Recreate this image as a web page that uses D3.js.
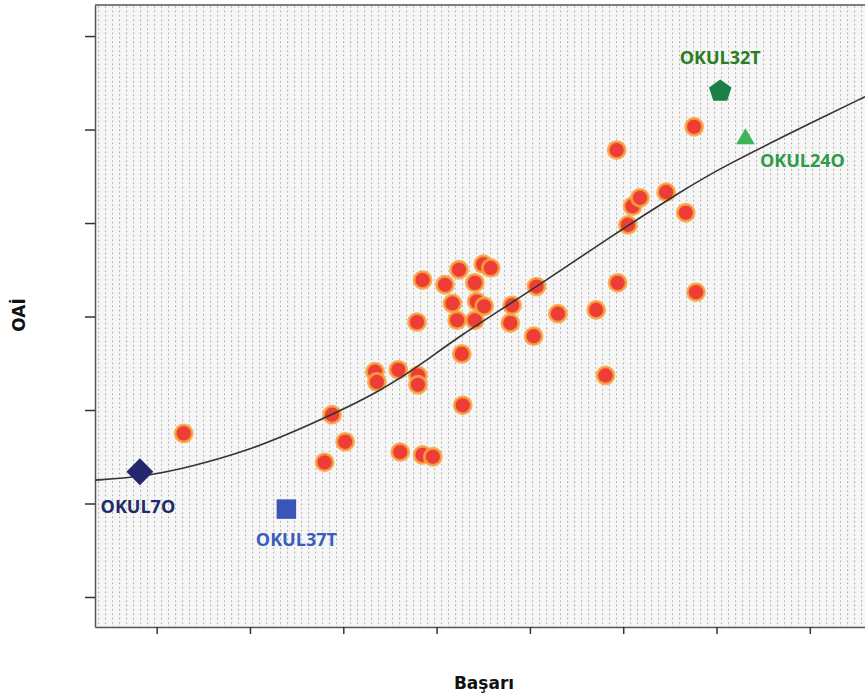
<!DOCTYPE html>
<html>
<head>
<meta charset="utf-8">
<script src="https://cdn.jsdelivr.net/npm/d3@7"></script>
<style>
  html, body { margin: 0; padding: 0; background: #fff; }
  svg { display: block; }
</style>
</head>
<body>
<svg width="865" height="697"></svg>
<script>
// Values (axis has no printed labels, so tick units are used)
const xTicks = [1, 2, 3, 4, 5, 6, 7, 8];
const yTicks = [1, 2, 3, 4, 5, 6, 7];

// schools (red dots)
const basari = [1.29, 2.80, 2.88, 3.02, 3.34, 3.36, 3.59, 3.61, 3.80, 3.80, 3.85, 3.96,
  3.79, 3.85, 4.09, 4.17, 4.22, 4.24, 4.27, 4.28, 4.41, 4.43, 4.41, 4.50, 4.58, 4.51,
  4.81, 4.79, 5.04, 5.07, 5.30, 5.71, 5.81, 5.94, 5.93, 6.05, 6.10, 6.18, 6.46, 6.67,
  6.76, 6.78];
const oai = [2.75, 2.44, 2.95, 2.66, 3.41, 3.30, 3.43, 2.55, 3.37, 3.27, 2.52, 2.50,
  3.94, 4.39, 4.34, 4.14, 3.96, 4.50, 3.60, 3.05, 4.36, 4.16, 3.96, 4.56, 4.52, 4.11,
  4.12, 3.93, 3.79, 4.32, 4.03, 4.07, 3.37, 4.36, 5.78, 4.98, 5.18, 5.27, 5.33, 5.11,
  6.03, 4.26];

// fitted curve
const fitX = [0.34, 0.82, 1.36, 2.00, 2.64, 3.39, 3.91, 4.18, 5.11, 5.84, 6.64, 7.04, 8.11, 8.59];
const fitY = [2.25, 2.28, 2.39, 2.57, 2.84, 3.19, 3.54, 3.75, 4.34, 4.84, 5.35, 5.59, 6.12, 6.35];

// highlighted schools
const okulNames = ["OKUL7O", "OKUL37T", "OKUL32T", "OKUL24O"];
const okulX = [0.82, 2.39, 7.04, 7.31];
const okulY = [2.34, 1.94, 6.41, 5.90];

const svg = d3.select("svg");
const plotL = 95, plotT = 5, plotB = 627, plotR = 870;

const x = d3.scaleLinear().domain([0.339, 8.645]).range([plotL, plotR]);
const y = d3.scaleLinear().domain([0.679, 7.332]).range([plotB, plotT]);

// dotted background
const defs = svg.append("defs");
const pat = defs.append("pattern")
  .attr("id", "dots")
  .attr("patternUnits", "userSpaceOnUse")
  .attr("x", plotL).attr("y", plotT)
  .attr("width", 7).attr("height", 4.4);
pat.append("rect").attr("width", 7).attr("height", 4.4).attr("fill", "#f6f6f6");
pat.append("rect").attr("x", 3).attr("y", 1.3).attr("width", 1.1).attr("height", 1.5).attr("fill", "#a6a6a6");

svg.append("rect")
  .attr("x", plotL).attr("y", plotT)
  .attr("width", plotR - plotL).attr("height", plotB - plotT)
  .attr("fill", "url(#dots)");

// frame top line
svg.append("line")
  .attr("x1", plotL).attr("x2", plotR)
  .attr("y1", plotT).attr("y2", plotT)
  .attr("stroke", "#555").attr("stroke-width", 1.5);

// axes
const yAxis = svg.append("g")
  .attr("transform", `translate(${plotL},0)`)
  .call(d3.axisLeft(y).tickValues(yTicks).tickFormat("").tickSize(10).tickSizeOuter(0));
const xAxis = svg.append("g")
  .attr("transform", `translate(0,${plotB})`)
  .call(d3.axisBottom(x).tickValues(xTicks).tickFormat("").tickSize(7).tickSizeOuter(0));
[yAxis, xAxis].forEach(a => {
  a.select(".domain").attr("stroke", "#555").attr("stroke-width", 1.5);
  a.selectAll(".tick line").attr("stroke", "#333").attr("stroke-width", 1.5);
});

// red points
const pts = basari.map((d, i) => ({ x: d, y: oai[i] }));
svg.append("g").selectAll("circle")
  .data(pts)
  .join("circle")
  .attr("cx", d => x(d.x))
  .attr("cy", d => y(d.y))
  .attr("r", 8.5)
  .attr("fill", "#ee3d36")
  .attr("stroke", "#f7a63e")
  .attr("stroke-width", 2.8)
  .attr("stroke-opacity", 0.85);

// fit line
const fit = fitX.map((d, i) => [d, fitY[i]]);
svg.append("path")
  .datum(fit)
  .attr("fill", "none")
  .attr("stroke", "#333")
  .attr("stroke-width", 1.6)
  .attr("d", d3.line().x(d => x(d[0])).y(d => y(d[1])).curve(d3.curveBasis));

// pentagon symbol type
const pentagon = {
  draw(ctx, size) {
    const r = Math.sqrt(size / 2.378);
    for (let k = 0; k < 5; k++) {
      const a = -Math.PI / 2 + k * 2 * Math.PI / 5;
      if (k === 0) ctx.moveTo(r * Math.cos(a), r * Math.sin(a));
      else ctx.lineTo(r * Math.cos(a), r * Math.sin(a));
    }
    ctx.closePath();
  }
};

const okulShapes = [d3.symbolSquare, d3.symbolSquare, pentagon, d3.symbolTriangle];
const okulSizes = [360, 380, 330, 150];
const okulRot = [45, 0, 0, 0];
const okulFill = ["#23276b", "#3a55b8", "#1b7f47", "#3db45a"];
const okulText = ["#1f2a68", "#3a5cbc", "#2a7d22", "#2e9a4a"];
const labelDx = [-2, 10, 0, 57];
const labelDy = [41, 37, -27, 28];

const okul = svg.append("g").selectAll("g")
  .data(okulNames)
  .join("g")
  .attr("transform", (d, i) => `translate(${x(okulX[i])},${y(okulY[i])})`);

okul.append("path")
  .attr("d", (d, i) => d3.symbol().type(okulShapes[i]).size(okulSizes[i])())
  .attr("transform", (d, i) => `rotate(${okulRot[i]})`)
  .attr("fill", (d, i) => okulFill[i]);

okul.append("text")
  .attr("x", (d, i) => labelDx[i])
  .attr("y", (d, i) => labelDy[i])
  .attr("text-anchor", "middle")
  .attr("font-family", "'Open Sans', sans-serif")
  .attr("font-weight", "bold")
  .attr("font-size", 18)
  .attr("fill", (d, i) => okulText[i])
  .text(d => d);

// axis titles
svg.append("text")
  .attr("x", 484).attr("y", 689)
  .attr("text-anchor", "middle")
  .attr("font-family", "'DejaVu Sans', sans-serif")
  .attr("font-weight", "bold")
  .attr("font-size", 17)
  .attr("fill", "#111")
  .text("Başarı");

svg.append("text")
  .attr("transform", "translate(25,315) rotate(-90)")
  .attr("text-anchor", "middle")
  .attr("font-family", "'DejaVu Sans', sans-serif")
  .attr("font-weight", "bold")
  .attr("font-size", 17)
  .attr("fill", "#111")
  .text("OAİ");
</script>
</body>
</html>
